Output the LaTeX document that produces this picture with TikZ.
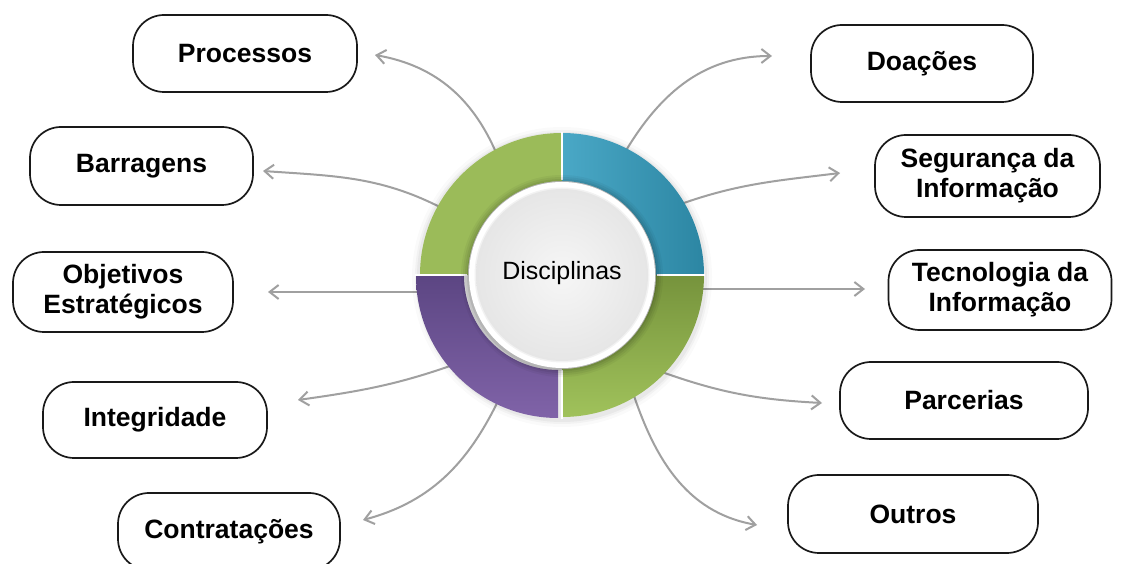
\documentclass[tikz,border=0pt]{standalone}
\usepackage{fontspec}
\setmainfont{Liberation Sans}
\usetikzlibrary{arrows.meta,calc}
\definecolor{tealA}{HTML}{4AA8C6}
\definecolor{tealB}{HTML}{2C86A3}
\definecolor{greenTL}{HTML}{9BBB59}
\definecolor{greenA}{HTML}{76933C}
\definecolor{greenB}{HTML}{A0C25B}
\definecolor{purA}{HTML}{5C4683}
\definecolor{purB}{HTML}{8063A8}
\definecolor{discIn}{HTML}{F6F6F6}
\definecolor{discOut}{HTML}{E6E6E6}
\definecolor{arrowgray}{HTML}{A0A0A0}
\begin{document}
\begin{tikzpicture}[x=1pt,y=1pt,
  box/.style={draw=black!90, line width=1.7pt, rounded corners=31pt, minimum height=77pt,
    align=center, inner sep=0pt, fill=white,
    font=\fontsize{26.5}{30}\selectfont\bfseries},
  conn/.style={draw=arrowgray, line width=2pt,
    -{Straight Barb[length=9pt,width=14pt]}},
]
\useasboundingbox (0,0) rectangle (1121,564);
\clip (0,0) rectangle (1121,564);
\fill[white] (0,0) rectangle (1121,564);

% boxes
\node[box, minimum width=224pt] (proc) at (245,510.5) {Processos};
\node[box, minimum width=223pt, minimum height=78pt] (barr) at (141.5,398) {Barragens};
\node[box, minimum width=220pt, minimum height=80pt] (obj) at (123,272) {Objetivos\\Estratégicos};
\node[box, minimum width=224pt, minimum height=76pt] (integ) at (155,144) {Integridade};
\node[box, minimum width=222pt] (contr) at (229,32.5) {Contratações};
\node[box, minimum width=222pt] (doa) at (922,500.5) {Doações};
\node[box, minimum width=225pt, minimum height=82pt] (seg) at (987.5,388) {Segurança da\\Informação};
\node[box, minimum width=223pt, minimum height=80pt] (tec) at (1000,274) {Tecnologia da\\Informação};
\node[box, minimum width=248pt] (parc) at (964,163.5) {Parcerias};
\node[box, minimum width=250pt, minimum height=78pt] (outr) at (913,50) {Outros};

% connector coordinates
\coordinate (C) at (562,289);
\coordinate (sP) at ($(C)+(118.6:132)$);
\coordinate (sB) at ($(C)+(150.8:132)$);
\coordinate (sO) at (430,272);
\coordinate (sI) at ($(C)+(221:132)$);
\coordinate (sC) at ($(C)+(243:132)$);
\coordinate (sD) at ($(C)+(63:132)$);
\coordinate (sS) at ($(C)+(31.4:132)$);
\coordinate (sT) at (695,275);
\coordinate (sR) at ($(C)+(-45.6:132)$);
\coordinate (sU) at ($(C)+(-58.4:132)$);

\coordinate (eP) at (375,509);
\coordinate (eB) at (263,393);
\coordinate (eO) at (268,272);
\coordinate (eI) at (298,164);
\coordinate (eC) at (363,44);
\coordinate (eD) at (772,508);
\coordinate (eS) at (840,391);
\coordinate (eT) at (865,275);
\coordinate (eR) at (822,161);
\coordinate (eU) at (757,39);

\draw[conn] (sP) to[out=112,in=-10] (eP);
\draw[conn] (sB) to[out=152,in=-4] (eB);
\draw[conn] (sO) -- (eO);
\draw[conn] (sI) to[out=200,in=8] (eI);
\draw[conn] (sC) to[out=245,in=15] (eC);
\draw[conn] (sD) to[out=60,in=180] (eD);
\draw[conn] (sS) to[out=20,in=187] (eS);
\draw[conn] (sT) -- (eT);
\draw[conn] (sR) to[out=-20,in=177] (eR);
\draw[conn] (sU) to[out=-72,in=170] (eU);

% ring
\begin{scope}[shift={(562,289)}]
  \foreach \r/\o in {150/0.02,147/0.03,145/0.04}{
    \fill[black, opacity=\o] (0,-2) circle[radius=\r];
  }
  % top-right teal
  \shade[left color=tealA, right color=tealB]
    (0,142) arc[start angle=90,end angle=0,radius=142] -- (94,0)
    arc[start angle=0,end angle=90,radius=94] -- cycle;
  % top-left green
  \fill[greenTL]
    (0,142) arc[start angle=90,end angle=180,radius=142] -- (-94,0)
    arc[start angle=180,end angle=90,radius=94] -- cycle;
  % bottom-left purple
  \begin{scope}[shift={(-4,-1)}]
  \shade[top color=purA, bottom color=purB]
    (-142,0) arc[start angle=180,end angle=270,radius=142] -- (0,-94)
    arc[start angle=270,end angle=180,radius=94] -- cycle;
  \end{scope}
  % bottom-right green
  \shade[top color=greenA, bottom color=greenB]
    (142,0) arc[start angle=0,end angle=-90,radius=142] -- (0,-94)
    arc[start angle=-90,end angle=0,radius=94] -- cycle;
  % separators
  \draw[white, line width=1.6pt] (0,95) -- (0,143);
  \draw[white, line width=1.6pt] (95,0) -- (143,0);
  \draw[white, line width=1.6pt] (-95,0) -- (-147,0);
  \draw[white, line width=1.6pt] (0,-95) -- (0,-144);
  % shadow of inner disk
  \foreach \r/\o in {101/0.04,99/0.05,97/0.06,95/0.08}{
    \fill[black, opacity=\o] (0,-1) circle[radius=\r];
  }
  \fill[white] (0,0) circle[radius=93];
  \fill[black, opacity=0.05] (0,0) circle[radius=87.5];
\end{scope}

\node[circle, minimum size=172pt, inner sep=0pt, inner color=discIn, outer color=discOut] (disc) at (C) {};
\node[font=\fontsize{25}{30}\selectfont, inner sep=0pt] (disclabel) at (562,291) {Disciplinas};
\end{tikzpicture}
\end{document}
